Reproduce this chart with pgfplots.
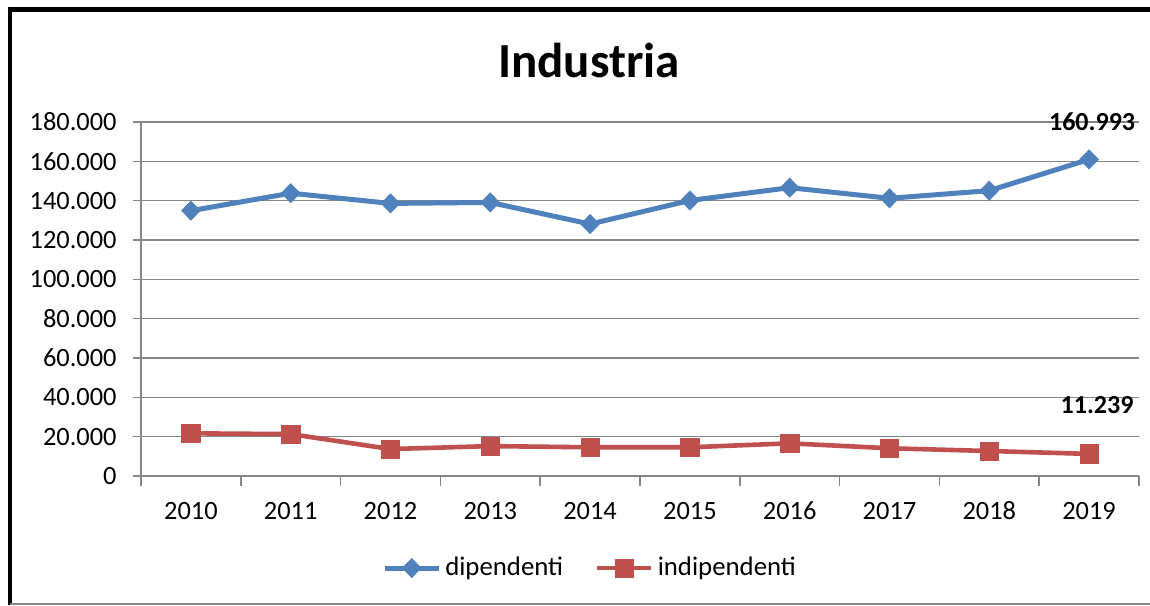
\documentclass[border=0pt]{standalone}
\usepackage{fontspec}
\setmainfont{Carlito}
\usepackage{pgfplots}
\pgfplotsset{compat=1.18}
\definecolor{dblue}{HTML}{4F81BD}
\definecolor{dred}{HTML}{C0504D}
\definecolor{gridgray}{HTML}{868686}
\begin{document}
\begin{tikzpicture}
\path[use as bounding box] (0,0) rectangle (575pt,302.5pt);
\fill[white] (0,0) rectangle (575pt,302.5pt);
\begin{axis}[at={(70.5pt,64.5pt)}, anchor=south west, scale only axis,
  width=499pt, height=177pt,
  xmin=-0.5, xmax=9.5, ymin=0, ymax=180000,
  axis lines*=left,
  axis line style={gridgray, line width=0.75pt},
  xtick={0,...,9}, xticklabels={2010,2011,2012,2013,2014,2015,2016,2017,2018,2019},
  major x tick style={draw=none},
  minor xtick={-0.5,0.5,...,9.5},
  minor tick length=5pt, major tick length=4pt,
  tick align=outside,
  ytick={0,20000,...,180000},
  ymajorgrids, grid style={gridgray, line width=0.75pt},
  tick style={gridgray, line width=0.75pt},
  scaled y ticks=false,
  /pgf/number format/fixed, /pgf/number format/precision=0,
  /pgf/number format/1000 sep={.},
  /pgf/number format/assume math mode=true,
  tick label style={font=\fontsize{13.2}{15}\selectfont, inner sep=0pt, text=black},
  yticklabel style={anchor=east, xshift=-8pt},
  xticklabel style={anchor=north, yshift=-9pt, text height=8.4pt, text depth=0pt},
  legend style={at={(0.451,-0.26)}, anchor=center, draw=none, fill=none,
    font=\fontsize{13.4}{15}\selectfont, inner sep=0pt,
    /tikz/every even column/.append style={column sep=14pt}},
  legend columns=2,
  legend cell align=left,
  legend image code/.code={\draw[mark repeat=2,mark phase=2,#1] plot coordinates {(0pt,0pt)(13.5pt,0pt)(27pt,0pt)};},
  clip=false,
]
\addplot[dblue, line width=2.5pt, mark=diamond*, mark size=4.8pt,
  mark options={solid, line width=0.3pt, xscale=1.3}] coordinates {
  (0,134900) (1,143800) (2,138600) (3,139100) (4,128100)
  (5,140100) (6,146600) (7,141200) (8,145100) (9,160993)};
\addlegendentry{dipendenti}
\addplot[dred, line width=2.3pt, mark=square*, mark size=4.6pt,
  mark options={solid, line width=0.3pt}] coordinates {
  (0,21700) (1,21300) (2,13700) (3,15200) (4,14600)
  (5,14600) (6,16600) (7,14100) (8,12700) (9,11239)};
\addlegendentry{indipendenti}
\node[font=\bfseries\fontsize{13}{15}\selectfont] at (axis cs:9.03,180000) {160.993};
\node[font=\bfseries\fontsize{13}{15}\selectfont] at (axis cs:9.08,36100) {11.239};
\end{axis}
\node[font=\bfseries\fontsize{24.5}{29}\selectfont, anchor=base] at (294.5pt,263.5pt) {Industria};
\draw[black, line width=2.25pt, line join=miter] (5pt,0) -- (5pt,297.75pt) -- (575pt,297.75pt);
\draw[gridgray, line width=0.8pt] (5pt,0.6pt) -- (575pt,0.6pt);
\end{tikzpicture}
\end{document}
